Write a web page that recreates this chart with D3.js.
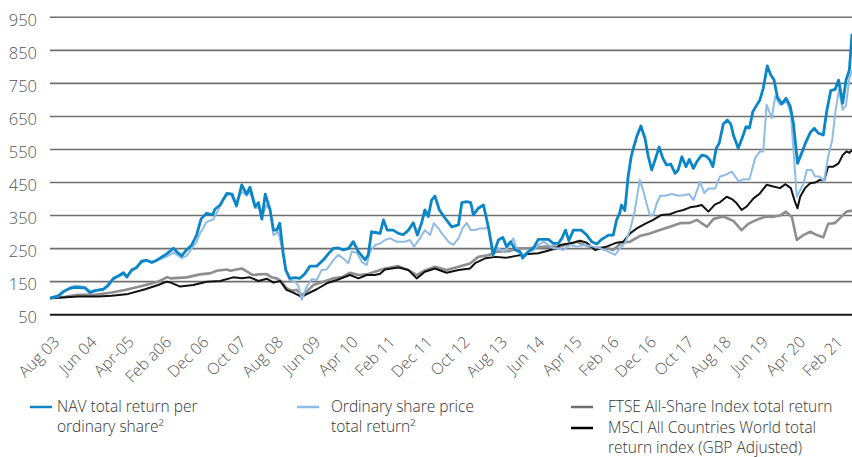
<!DOCTYPE html>
<html>
<head>
<meta charset="utf-8">
<script src="https://cdn.jsdelivr.net/npm/d3@7"></script>
<style>
body { margin: 0; background: #fff; }
text { font-family: "Open Sans", sans-serif; }
</style>
</head>
<body>
<script>
// x values are months counted from Aug 2003 (0) to Jul 2021 (215)
var tickMonths = d3.range(0, 211, 10);
var tickLabels = ["Aug 03", "Jun 04", "Apr-05", "Feb a06", "Dec 06", "Oct 07", "Aug 08", "Jun 09",
	"Apr 10", "Feb 11", "Dec 11", "Oct 12", "Aug 13", "Jun 14", "Apr 15", "Feb 16", "Dec 16",
	"Oct 17", "Aug 18", "Jun 19", "Apr 20", "Feb 21"];
var yTicks = [50, 150, 250, 350, 450, 550, 650, 750, 850, 950];

// NAV total return per ordinary share
var navTR = [[0,100],[2.2,107],[3.6,120],[5.4,130],[6.7,133],[9.4,131],[10.7,117],[12.1,123],[14.3,127],[15.6,140],
	[17,160],[18.3,167],[19.7,177],[20.6,164],[21.9,185],[23.2,193],[24.6,212],[25.9,215],[27.3,208],[28.6,215],
	[30,225],[31.3,234],[33.1,251],[34,240],[35.3,228],[36.6,246],[38,261],[39.3,291],[40.5,340],[42,357],
	[43.6,352],[44.2,369],[45.6,382],[47.4,417],[48.8,415],[50,379],[51.4,443],[52.7,415],[53.6,436],[55,377],
	[55.9,389],[56.8,339],[57.7,415],[59,367],[59.9,306],[60.8,306],[61.6,327],[62.5,236],[63.2,185],[64.3,160],
	[65.7,162],[67,160],[68.4,175],[69.7,197],[71.5,197],[73.3,216],[74.6,234],[76,251],[77.3,252],[78.6,246],
	[80,250],[81.3,271],[82.7,240],[84.5,216],[85.3,231],[86.2,301],[87.6,298],[88.5,296],[89.4,337],[90.4,306],
	[92,306],[93.4,296],[94.7,292],[96.1,306],[97.4,328],[98.5,291],[99.6,327],[100.5,367],[101.4,347],[102.3,397],
	[103.2,409],[104.4,367],[105.9,342],[107.7,316],[109.5,322],[110.4,389],[111.7,392],[112.8,389],[113.5,352],[114.8,372],
	[116.2,382],[117.5,316],[118.8,231],[120.2,276],[121.4,284],[122.4,256],[123.5,271],[124.7,246],[126,241],[126.7,221],
	[128.2,241],[129.6,251],[130.9,278],[132.3,278],[133.6,278],[134.9,266],[136.3,266],[137.2,281],[138.2,306],[139.1,274],
	[140.3,306],[142.4,306],[143.9,291],[145.2,271],[146.6,264],[147.9,278],[149.7,291],[151,291],[151.9,337],[152.7,357],
	[153.2,382],[154.1,365],[155,470],[155.8,528],[156.4,554],[157.3,589],[158.4,621],[159.5,584],[160.4,528],[161.3,488],
	[162.2,518],[163.3,557],[164.3,523],[165.3,503],[166.4,506],[167.6,478],[168.4,488],[169.4,528],[170.5,498],[171.4,520],
	[172.5,493],[173.5,515],[174.7,533],[175.9,530],[176.8,520],[177.7,498],[178.6,554],[179.4,569],[180.5,627],[181.6,639],
	[182.5,627],[183.2,594],[184.5,554],[185.7,589],[186.6,619],[187.5,615],[188.4,664],[189.5,685],[190.3,700],[191.2,735],
	[192.3,803],[193.2,776],[194.1,760],[195,708],[196.2,688],[197.3,705],[198.4,682],[199.3,629],[200.4,508],[201.5,539],
	[202.7,574],[203.8,601],[204.9,614],[206,599],[207.3,594],[208.2,664],[209.3,728],[210.5,732],[211.4,760],[212.5,690],
	[213.4,760],[214.3,791],[215,900]];

// Ordinary share price total return
var shareTR = [[0,100],[2.2,104],[3.6,118],[5.4,133],[6.7,138],[8,137],[9.4,133],[10.7,122],[12.1,123],[14.3,126],
	[15.6,135],[17,155],[18.3,165],[19.7,172],[20.6,168],[21.9,183],[23.2,192],[24.6,208],[25.9,213],[27.3,210],
	[28.6,213],[30,220],[31.3,226],[33.1,238],[34,232],[35.3,221],[36.6,228],[38,250],[39.3,270],[40.2,296],
	[41,311],[42,331],[43.8,338],[45.1,367],[46.5,402],[48.3,417],[49.6,387],[51.4,422],[52.7,410],[53.6,422],
	[55,372],[55.9,375],[57.2,357],[58.1,382],[59,367],[59.9,291],[61.2,300],[62.5,236],[63.4,180],[64.3,155],
	[65.7,150],[66.6,137],[67.5,95],[68.8,135],[70.2,158],[71.5,155],[72.8,185],[74.2,187],[76,216],[77.3,231],
	[78.6,220],[80,206],[80.9,241],[82.2,238],[83.6,210],[84.9,200],[85.8,241],[87.2,261],[88.5,266],[89.8,276],
	[91.2,281],[92.9,271],[95.1,271],[96.5,276],[97.6,256],[99.2,281],[100.5,306],[101.9,291],[102.9,327],[104.1,311],
	[105.4,291],[106.8,271],[108.1,261],[109.5,281],[110.6,311],[111.7,328],[112.8,306],[113.9,306],[115.2,311],[116.6,311],
	[117.5,316],[118.8,246],[120.2,251],[121.6,241],[122.9,256],[124.2,281],[125.3,241],[126.9,231],[128.2,241],[129.6,246],
	[130.9,261],[132.3,271],[133.6,261],[134.9,251],[136.3,251],[137.6,246],[139.4,261],[141.2,256],[143.4,261],[145.7,256],
	[147.5,251],[149.7,241],[151.5,231],[152.8,251],[154.1,266],[155.5,306],[156.8,367],[158.1,458],[159,427],[159.9,387],
	[160.8,352],[161.7,352],[162.6,385],[163.6,410],[164.9,410],[166.7,415],[168.5,410],[170.2,412],[171.3,415],[172.5,397],
	[174.3,452],[175.4,418],[176.5,432],[178.3,432],[179.6,468],[181,473],[182.8,483],[184.6,453],[185.9,460],[187.5,460],
	[189,523],[190.3,544],[191.2,544],[192.1,685],[193.5,645],[194.4,710],[195.7,685],[197.5,695],[198.6,660],[199.5,518],
	[200.2,407],[201.1,427],[202,448],[202.9,488],[204.2,488],[205.1,468],[206.4,468],[207.5,453],[208.6,528],[209.7,579],
	[210.6,670],[211.5,730],[212.5,670],[213.4,685],[214.3,765],[215,790]];

// FTSE All-Share Index total return
var ftseTR = [[0,100],[4,104],[7.6,110],[12.1,110],[16.5,117],[20.1,125],[24.6,137],[29,150],[31.3,163],[32.4,160],
	[36.6,163],[40.2,172],[42.9,175],[44.7,183],[47.4,187],[48.3,183],[51.4,190],[53.6,175],[54.5,170],[55.9,172],
	[58.1,173],[59.4,163],[60.8,160],[62.1,150],[63.4,130],[64.8,123],[66.1,125],[67.5,110],[68.8,120],[70.6,140],
	[73.3,150],[76,160],[78.6,165],[80.4,177],[82.7,170],[84.9,172],[87.1,180],[89.8,190],[93.4,197],[96.1,185],
	[98.3,170],[100.5,184],[103.2,195],[106.3,185],[109.5,195],[112.6,205],[114.8,225],[117.5,230],[119.8,241],[122.9,242],
	[125.6,251],[128.7,252],[132.7,256],[136.7,256],[141.2,271],[145.7,251],[148.4,254],[151,246],[153.2,268],[155.5,271],
	[158.1,288],[160.8,296],[163.5,306],[166.2,316],[168.9,327],[171.6,328],[173.4,337],[176.1,316],[177.9,340],[180.5,347],
	[183.2,334],[185.4,306],[187.2,325],[189.4,337],[191.8,347],[193.5,346],[195.7,350],[197.3,362],[198.9,345],[200.2,276],
	[202,291],[203.8,301],[205.6,291],[207.3,284],[208.6,325],[210.4,327],[212.2,347],[213.5,362],[215,365]];

// MSCI All Countries World total return index (GBP adjusted)
var msciTR = [[0,100],[7.6,105],[13,105],[16.5,107],[21,113],[25.5,127],[29,140],[31.3,150],[32.4,147],[34.9,135],
	[38.4,140],[42,150],[45.6,152],[49.1,163],[51.4,160],[53.6,163],[55.9,152],[58.1,159],[59.9,147],[61.7,152],
	[63.4,125],[65.2,117],[67.5,104],[68.8,112],[71.5,127],[74.2,145],[76.9,155],[80.4,170],[82.7,160],[84.9,170],
	[87.1,170],[88.5,174],[89.8,187],[93.4,193],[96.1,185],[98.3,160],[100.5,180],[103.2,190],[106.3,177],[109.5,185],
	[112.6,190],[114.1,207],[116.8,221],[119.5,225],[122.2,222],[124.9,228],[128.2,234],[130.9,236],[132.7,241],[135.8,251],
	[136.7,261],[140.3,268],[142.1,274],[143.9,268],[146.1,246],[149.2,256],[151.9,268],[153.7,271],[155.5,296],[157.3,311],
	[159.5,325],[161.7,337],[163.9,352],[166.2,354],[168,362],[169.8,367],[171.6,375],[173.4,378],[174.7,382],[176.5,362],
	[178.3,384],[179.6,390],[181.4,407],[182.8,400],[184.1,387],[185.4,367],[186.8,378],[188.6,402],[190.3,417],[192.1,443],
	[193.9,438],[195.7,433],[197.1,445],[198.6,433],[199.7,392],[200.4,372],[201.1,407],[202.4,433],[203.8,448],[205.1,450],
	[206.4,458],[207.5,455],[208.6,498],[210,498],[211.4,508],[212.5,533],[213.5,544],[214.3,540],[215,548]];

var series = [
	{ data: ftseTR, colour: "#8e8e8e", width: 2.6 },
	{ data: msciTR, colour: "#111111", width: 2 },
	{ data: shareTR, colour: "#8fbbe6", width: 2 },
	{ data: navTR, colour: "#0a86c8", width: 2.8 }
];

var legendItems = [
	{ colour: "#0a86c8", lines: ["NAV total return per", "ordinary share\u00b2"], col: 0, row: 0 },
	{ colour: "#8fbbe6", lines: ["Ordinary share price", "total return\u00b2"], col: 1, row: 0 },
	{ colour: "#6e6e6e", lines: ["FTSE All-Share Index total return"], col: 2, row: 0 },
	{ colour: "#000000", lines: ["MSCI All Countries World total", "return index (GBP Adjusted)"], col: 2, row: 1 }
];

var svg = d3.select("body").append("svg")
	.attr("width", 852)
	.attr("height", 457);

var x = d3.scaleLinear().domain([0, 215]).range([50, 852]);
var y = d3.scaleLinear().domain([50, 950]).range([314.7, 17.3]);

// gridlines
svg.append("g").selectAll("line")
	.data(yTicks.slice(1))
	.enter().append("line")
	.attr("x1", 50).attr("x2", 852)
	.attr("y1", function(d) { return y(d); })
	.attr("y2", function(d) { return y(d); })
	.attr("stroke", "#6f6f6f")
	.attr("stroke-width", 1.6);

// bottom axis line
svg.append("line")
	.attr("x1", 50).attr("x2", 852)
	.attr("y1", y(50)).attr("y2", y(50))
	.attr("stroke", "#1a1a1a")
	.attr("stroke-width", 2);

// y labels
svg.append("g").selectAll("text")
	.data(yTicks)
	.enter().append("text")
	.attr("x", 37)
	.attr("y", function(d) { return y(d) + 3; })
	.attr("dy", "0.35em")
	.attr("text-anchor", "end")
	.attr("font-size", 16.5)
	.attr("font-weight", 300)
	.attr("fill", "#555")
	.text(function(d) { return d; });

// x labels
var xAxis = d3.axisBottom(x)
	.tickValues(tickMonths)
	.tickSize(0)
	.tickFormat(function(d, i) { return tickLabels[i]; });

var gx = svg.append("g")
	.attr("transform", "translate(0," + 330 + ")")
	.call(xAxis);
gx.select(".domain").remove();
gx.selectAll("text")
	.attr("font-family", "Open Sans, sans-serif")
	.attr("font-size", 16)
	.attr("font-weight", 300)
	.attr("fill", "#555")
	.attr("text-anchor", "end")
	.attr("dy", "0.35em")
	.attr("y", 0)
	.attr("transform", "translate(6,9) rotate(-45)");

// lines
var line = d3.line()
	.x(function(d) { return x(d[0]); })
	.y(function(d) { return y(d[1]); });

svg.append("g").selectAll("path")
	.data(series)
	.enter().append("path")
	.attr("d", function(d) { return line(d.data); })
	.attr("fill", "none")
	.attr("stroke", function(d) { return d.colour; })
	.attr("stroke-width", function(d) { return d.width; })
	.attr("stroke-linejoin", "round");

// legend
var colX = [30, 297, 571];
var textX = [27, 34, 37];
var lg = svg.append("g").selectAll("g")
	.data(legendItems)
	.enter().append("g")
	.attr("transform", function(d) { return "translate(" + colX[d.col] + "," + (407 + d.row * 21) + ")"; });

lg.append("line")
	.attr("x1", 0).attr("x2", 22)
	.attr("stroke", function(d) { return d.colour; })
	.attr("stroke-width", 2.5);

lg.each(function(d) {
	var t = d3.select(this).append("text")
		.attr("font-size", 15.5)
		.attr("font-weight", 300)
		.attr("fill", "#333");
	d.lines.forEach(function(l, i) {
		t.append("tspan")
			.attr("x", textX[d.col])
			.attr("y", i * 20)
			.attr("dy", "0.35em")
			.text(l);
	});
});
</script>
</body>
</html>
